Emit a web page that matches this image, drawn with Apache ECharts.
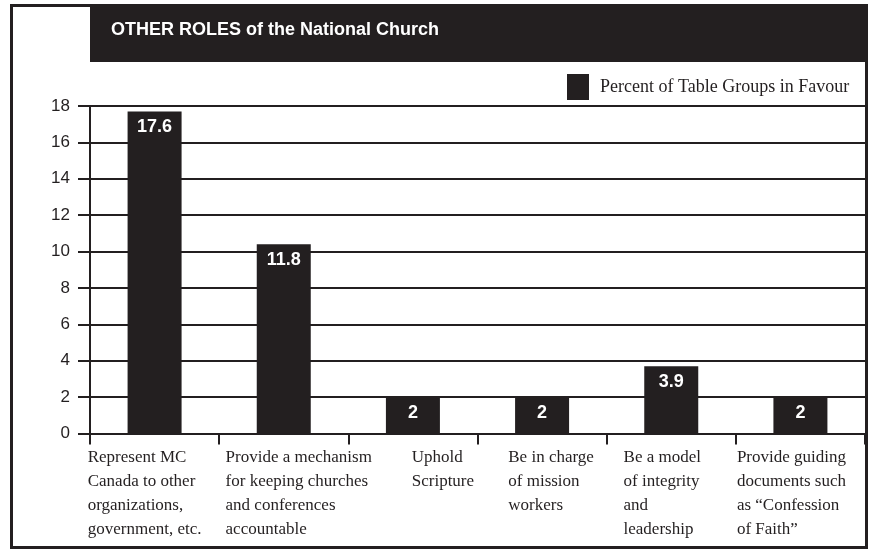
<!DOCTYPE html>
<html>
<head>
<meta charset="utf-8">
<script src="https://cdn.jsdelivr.net/npm/echarts@6/dist/echarts.min.js"></script>
<style>html,body{margin:0;padding:0;background:#fff;}#c{width:872px;height:550px;}</style>
</head>
<body>
<div id="c"></div>
<script>
const titleText = 'OTHER ROLES of the National Church';
const seriesName = 'Percent of Table Groups in Favour';
const categories = [
  'Represent MC\nCanada to other\norganizations,\ngovernment, etc.',
  'Provide a mechanism\nfor keeping churches\nand conferences\naccountable',
  'Uphold\nScripture',
  'Be in charge\nof mission\nworkers',
  'Be a model\nof integrity\nand\nleadership',
  'Provide guiding\ndocuments such\nas \u201cConfession\nof Faith\u201d'
];
// bar heights as drawn in the picture
const barHeights = [17.7, 10.4, 2, 2, 3.7, 2];
// values as printed on the bars
const labelValues = ['17.6', '11.8', '2', '2', '3.9', '2'];
const yTicks = { min: 0, max: 18, interval: 2 };

const ink = '#231f20';
const serif = 'Liberation Serif, Times New Roman, serif';
// label block paddings (style only) so the text sits as in the original layout
const labelPads = [[0, 20, 0, 0], [0, 0, 0, 30], [0, 0, 0, 60], [0, 0, 0, 18], [0, 18, 0, 0], [0, 18, 0, 0]];
const rich = {};
labelPads.forEach((p, i) => {
  rich['r' + i] = { align: 'left', fontFamily: serif, fontSize: 17, lineHeight: 24, color: ink, padding: p };
});

const chart = echarts.init(document.getElementById('c'), null, { renderer: 'canvas' });
chart.setOption({
  animation: false,
  backgroundColor: '#fff',
  title: {
    text: titleText,
    left: 106, top: 16,
    textStyle: { color: '#fff', fontFamily: 'Liberation Sans, Arial', fontWeight: 'bold', fontSize: 18 },
    z: 10
  },
  graphic: [
    { type: 'rect', z: 0, shape: { x: 90, y: 5.5, width: 776.5, height: 56.5 }, style: { fill: ink } },
    { type: 'rect', z: 1, shape: { x: 11.5, y: 5.5, width: 855, height: 542 }, style: { fill: null, stroke: ink, lineWidth: 3 } }
  ],
  legend: {
    data: [seriesName],
    left: 567, top: 74,
    itemWidth: 22, itemHeight: 26, icon: 'rect',
    padding: 0,
    textStyle: { fontFamily: serif, fontSize: 18, color: ink, padding: [0, 0, 0, 6] }
  },
  grid: { left: 90, right: 7, top: 106, bottom: 116.5, containLabel: false },
  xAxis: {
    type: 'category',
    data: categories,
    axisLine: { lineStyle: { color: ink, width: 2 } },
    axisTick: { show: true, length: 11, interval: 0, lineStyle: { color: ink, width: 2 } },
    axisLabel: {
      interval: 0, margin: 12,
      formatter: (v, i) => v.split('\n').map(l => '{r' + i + '|' + l + '}').join('\n'),
      rich: rich
    },
    splitLine: { show: false }
  },
  yAxis: {
    type: 'value',
    min: yTicks.min, max: yTicks.max, interval: yTicks.interval,
    axisLine: { show: true, lineStyle: { color: ink, width: 2 } },
    axisTick: { show: true, length: 12, lineStyle: { color: ink, width: 2 } },
    axisLabel: { margin: 20, fontFamily: 'Liberation Sans, Arial', fontSize: 17, color: ink },
    splitLine: { show: true, lineStyle: { color: ink, width: 2 } }
  },
  series: [{
    name: seriesName,
    type: 'bar',
    data: barHeights,
    barWidth: 54,
    itemStyle: { color: ink },
    label: {
      show: true, position: 'insideTop', distance: 7,
      formatter: p => labelValues[p.dataIndex],
      color: '#fff', fontFamily: 'Liberation Sans, Arial', fontWeight: 'bold', fontSize: 18
    },
    z: 3
  }]
});
</script>
</body>
</html>
